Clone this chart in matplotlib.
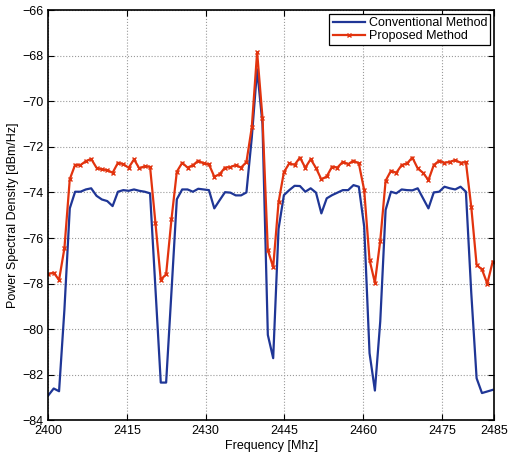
import numpy as np
import matplotlib
matplotlib.use("Agg")
import matplotlib.pyplot as plt

plt.rcParams['font.family'] = ['Liberation Sans', 'DejaVu Sans']

# frequency bins (84 bins across the 2.4 GHz band)
freq = np.linspace(2400, 2484.7, 84)

psd_conventional = [
    -82.90, -82.60, -82.72, -79.14, -74.70, -73.97, -73.97, -73.87, -73.82, -74.15,
    -74.31, -74.38, -74.60, -73.97, -73.90, -73.93, -73.87, -73.93, -73.97, -74.04,
    -78.20, -82.34, -82.34, -78.35, -74.30, -73.87, -73.87, -73.97, -73.84, -73.87,
    -73.90, -74.70, -74.34, -73.99, -74.01, -74.13, -74.13, -74.00, -71.60, -68.60,
    -71.00, -80.25, -81.27, -75.60, -74.12, -73.90, -73.71, -73.72, -73.97, -73.82,
    -74.01, -74.92, -74.26, -74.12, -74.01, -73.90, -73.90, -73.68, -73.75, -75.50,
    -81.05, -82.69, -79.66, -74.77, -73.97, -74.04, -73.87, -73.90, -73.91, -73.82,
    -74.26, -74.70, -74.00, -73.97, -73.75, -73.82, -73.87, -73.75, -73.97, -78.40,
    -82.15, -82.80, -82.73, -82.66,
]

psd_proposed = [
    -77.58, -77.52, -77.84, -76.45, -73.42, -72.79, -72.80, -72.63, -72.53, -72.92,
    -72.99, -73.02, -73.14, -72.70, -72.76, -72.92, -72.55, -72.95, -72.85, -72.88,
    -75.33, -77.83, -77.59, -75.18, -73.09, -72.70, -72.91, -72.81, -72.61, -72.73,
    -72.77, -73.31, -73.20, -72.91, -72.89, -72.80, -72.91, -72.67, -71.15, -67.85,
    -70.72, -76.53, -77.28, -74.44, -73.11, -72.73, -72.79, -72.47, -72.92, -72.54,
    -72.93, -73.43, -73.30, -72.87, -72.91, -72.66, -72.76, -72.61, -72.73, -73.90,
    -76.96, -77.96, -76.12, -73.49, -73.05, -73.14, -72.80, -72.73, -72.47, -72.95,
    -73.14, -73.46, -72.80, -72.61, -72.70, -72.66, -72.58, -72.70, -72.67, -74.63,
    -77.18, -77.38, -78.00, -77.04,
]

xticks = [2400, 2415, 2430, 2445, 2460, 2475, 2485]
yticks = np.arange(-84, -65, 2)

fig = plt.figure(figsize=(5.09, 4.55), dpi=100)
ax = fig.add_axes([0.095, 0.076, 0.876, 0.902])

ax.plot(freq, psd_conventional, color='#1f3696', lw=1.6, label='Conventional Method')
ax.plot(freq, psd_proposed, color='#e2330e', lw=1.6, marker='x', ms=3.5, mew=1.0,
        label='Proposed Method')

ax.set_xlim(2400, 2485)
ax.set_ylim(-84, -66)
ax.set_xticks(xticks)
ax.set_yticks(yticks)
ax.grid(True, color='#9a9a9a', linestyle=':', linewidth=0.8)
ax.tick_params(direction='in', top=True, right=True, labelsize=9, length=4, width=0.8)
for s in ax.spines.values():
    s.set_linewidth(1.2)

ax.set_xlabel('Frequency [Mhz]', fontsize=9, labelpad=2)
ax.set_ylabel('Power Spectral Density [dBm/Hz]', fontsize=9, labelpad=2)

leg = ax.legend(loc='upper right', fontsize=9, fancybox=False, framealpha=1,
                edgecolor='black', borderpad=0.25, handlelength=2.6,
                handletextpad=0.3, labelspacing=0.1, borderaxespad=0.3)
leg.get_frame().set_linewidth(0.9)

fig.savefig('out.png', dpi=100)
